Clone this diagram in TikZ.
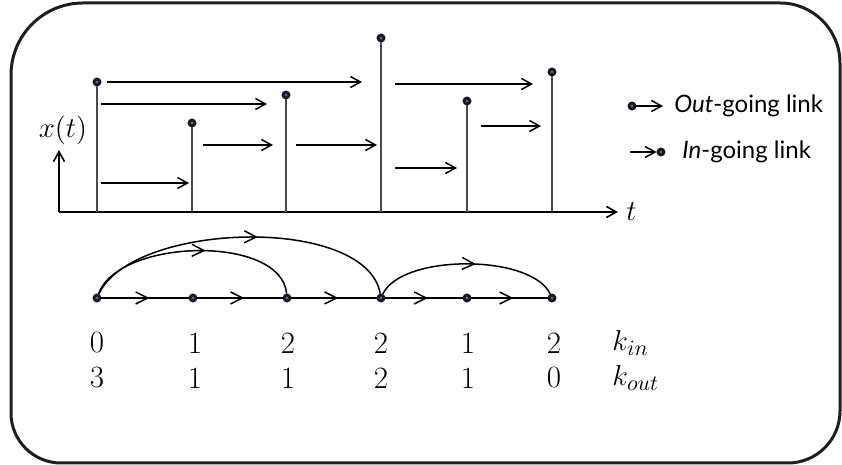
\documentclass[tikz,border=0pt]{standalone}
\usepackage{fontspec}
\newfontfamily\legendfont{Lato}
\usetikzlibrary{arrows.meta, decorations.markings}
\definecolor{dotcore}{HTML}{3A6FC4}
\definecolor{stemgray}{HTML}{4A4A4A}
\definecolor{framegray}{HTML}{1E1E1E}

\begin{document}
\begin{tikzpicture}[
    x=0.5pt, y=0.5pt,
    dot/.style={circle, draw=black!90, fill=dotcore, line width=1.4pt, minimum size=3pt, inner sep=0pt},
    stem/.style={stemgray, line width=0.7pt},
    axis/.style={line width=0.8pt, -{Straight Barb[length=5pt, width=5.5pt]}},
    vis/.style={line width=0.75pt, -{Straight Barb[length=5pt, width=5.5pt]}},
    link/.style={line width=0.75pt, postaction={decorate},
      decoration={markings, mark=at position 0.55 with {\arrow{Straight Barb[length=6pt, width=6pt]}}}},
    num/.style={font=\fontsize{15.5}{18}\selectfont, inner sep=0pt},
    mathlbl/.style={font=\fontsize{14}{17}\selectfont, inner sep=0pt},
    lgd/.style={font=\legendfont\fontsize{12}{14}\selectfont, anchor=west, inner sep=0pt}]

  \useasboundingbox (0,0) rectangle (842,465);

  % Outer frame, corners not all of one radius.
  \draw[line width=1.5pt, framegray] (11,52) -- (11,390)
    arc[start angle=180, end angle=90, radius=72] -- (780,462)
    arc[start angle=90, end angle=0, radius=60] -- (840,54)
    arc[start angle=0, end angle=-90, radius=52] -- (61,2)
    arc[start angle=270, end angle=180, radius=50] -- cycle;

  % Time series: axes and stems.
  \coordinate (o) at (59,253);
  \coordinate (yend) at (59,315);
  \coordinate (xend) at (618,253);
  \draw[axis] (o) -- (yend);
  \draw[axis] (o) -- (xend);
  \node[mathlbl] (xt) at (63,335) {$x(t)$};
  \node[mathlbl, anchor=west] (tl) at (626,253) {$t$};

  \foreach \i/\x/\y in {1/97/383, 2/192/342, 3/286/370, 4/381/427, 5/467/364, 6/552/393} {
    \coordinate (b\i) at (\x,253);
    \node[dot] (s\i) at (\x,\y) {};
    \draw[stem] (b\i) -- (s\i);
  }

  % Lines of sight between the bars.
  \foreach \a/\b/\y in {107/362/383, 101/267/361, 101/189/282, 203/273/320,
                        296/377/320, 395/533/381, 395/457/297, 481/541/339}
    \draw[vis] (\a,\y) -- (\b,\y);

  % Legend.
  \node[dot] (ld1) at (632,359) {};
  \coordinate (la1) at (663,359);
  \draw[vis] (ld1) -- (la1);
  \node[lgd] (lt1) at (674,359) {\textit{Out}-going link};
  \coordinate (la2) at (630,313);
  \node[dot] (ld2) at (661,313) {};
  \draw[vis] (la2) -- (ld2);
  \node[lgd] (lt2) at (682,313) {\textit{In}-going link};

  % The visibility graph.
  \foreach \i/\x in {1/97, 2/193, 3/287, 4/381, 5/467, 6/552}
    \node[dot] (v\i) at (\x,167) {};
  \foreach \i/\j in {1/2, 2/3, 3/4, 4/5, 5/6}
    \draw[link] (v\i) -- (v\j);
  \draw[link] (v1) to[out=70, in=95, looseness=0.81] (v3);
  \draw[link] (v1) to[out=65, in=100, looseness=0.73] (v4);
  \draw[link] (v4) to[out=65, in=115, looseness=0.68] (v6);

  % Degrees.
  \foreach \i/\x/\a/\b in {1/97/0/3, 2/195/1/1, 3/288/2/1, 4/381/2/2, 5/468/1/1, 6/554/2/0} {
    \node[num] (kin\i) at (\x,122) {\a};
    \node[num] (kout\i) at (\x,87) {\b};
  }
  \node[num, anchor=west] (kinl) at (612,122) {$k_{in}$};
  \node[num, anchor=west] (koutl) at (612,87) {$k_{out}$};
\end{tikzpicture}
\end{document}
